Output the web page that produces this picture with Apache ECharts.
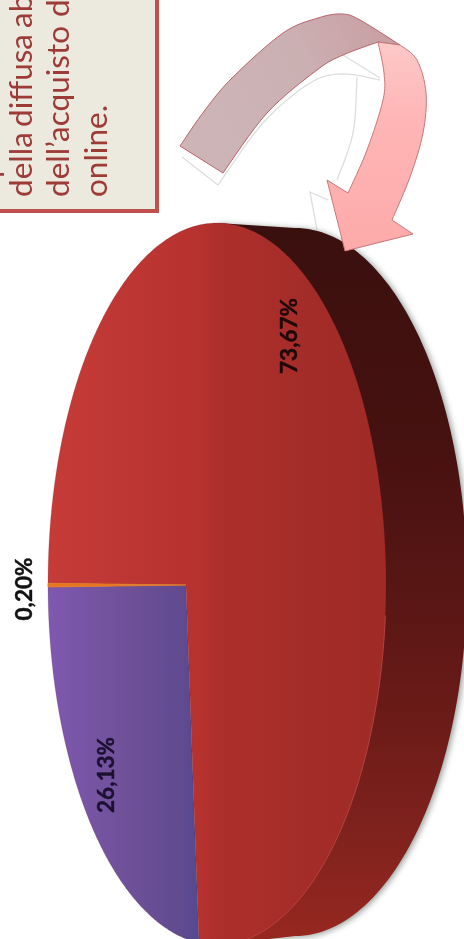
<!DOCTYPE html>
<html><head><meta charset="utf-8">
<style>html,body{margin:0;padding:0;background:#fff}#c{width:464px;height:939px}</style>
<script src="https://cdn.jsdelivr.net/npm/echarts@6/dist/echarts.min.js"></script>
</head><body><div id="c"></div>
<script>
// ---- data ----
const sliceNames = ['Arancio', 'Viola', 'Rosso'];
const sliceValues = [0.20, 26.13, 73.67];
const sliceLabels = ['0,20%', '26,13%', '73,67%'];
const noteWords = ['p', 'della', 'diffusa', 'ab', 'dell\u2019acquisto', 'di', 'online.'];

// ---- drawing helpers ----
const FACE = {cx: 217, cy: 584, rx: 169, ry: 361};
const BASE = {cx: 295, cy: 582, rx: 172, ry: 354};
const APEX = [186, 585];
const SQUASH = FACE.rx / FACE.ry;
const START_DEG = 180.33;
const total = sliceValues.reduce((a, b) => a + b, 0);

function rayToFace(deg) {
  const r = deg * Math.PI / 180;
  const dx = Math.cos(r) * SQUASH, dy = Math.sin(r);
  const ox = (APEX[0] - FACE.cx) / FACE.rx, oy = (APEX[1] - FACE.cy) / FACE.ry;
  const ax = dx / FACE.rx, ay = dy / FACE.ry;
  const a = ax * ax + ay * ay, b = 2 * (ox * ax + oy * ay), c = ox * ox + oy * oy - 1;
  const t = (-b + Math.sqrt(b * b - 4 * a * c)) / (2 * a);
  return [APEX[0] + t * dx, APEX[1] + t * dy];
}
function slicePoints(fromDeg, toDeg) {
  const n = Math.max(2, Math.ceil(Math.abs(toDeg - fromDeg) * 2));
  const pts = [APEX.slice()];
  for (let i = 0; i <= n; i++) pts.push(rayToFace(fromDeg + (toDeg - fromDeg) * i / n));
  return pts;
}
function ellipseArc(e, a0, a1, n) {
  const pts = [];
  for (let i = 0; i <= n; i++) {
    const t = (a0 + (a1 - a0) * i / n) * Math.PI / 180;
    pts.push([e.cx + e.rx * Math.cos(t), e.cy + e.ry * Math.sin(t)]);
  }
  return pts;
}
function spline(p, seg) {
  const out = [];
  for (let i = 0; i < p.length - 1; i++) {
    const p0 = p[Math.max(0, i - 1)], p1 = p[i], p2 = p[i + 1], p3 = p[Math.min(p.length - 1, i + 2)];
    for (let j = 0; j < (seg || 8); j++) {
      const t = j / (seg || 8), t2 = t * t, t3 = t2 * t;
      out.push([0, 1].map(k => 0.5 * (2 * p1[k] + (p2[k] - p0[k]) * t + (2 * p0[k] - 5 * p1[k] + 4 * p2[k] - p3[k]) * t2 + (3 * p1[k] - p0[k] - 3 * p2[k] + p3[k]) * t3)));
    }
  }
  out.push(p[p.length - 1]);
  return out;
}
const LG = (x0, y0, x1, y1, stops) => new echarts.graphic.LinearGradient(x0, y0, x1, y1, stops.map(c => ({offset: c[0], color: c[1]})), true);

const faceFills = [
  '#e8761e',
  LG(48, 0, 198, 0, [[0, '#7f58b0'], [0.5, '#6f5199'], [0.9, '#604a90'], [1, '#544a92']]),
  LG(48, 0, 386, 0, [[0, '#c63b38'], [0.45, '#b6322f'], [0.5, '#ae2f2c'], [0.8, '#a32c28'], [1, '#9f2a26']])
];
const labelSpots = [[25, 589], [107, 775], [289.5, 336]];
const labelColors = ['#111111', '#1c1030', '#1e0808'];

// cumulative share before each slice, from the data
const starts = [];
sliceValues.reduce((acc, v, i) => { starts[i] = acc; return acc + v; }, 0);

function renderSlice(params, api) {
  const i = params.dataIndex;
  const v = api.value(0);
  const a0 = START_DEG - starts[i] / total * 360;
  const a1 = a0 - v / total * 360;
  return {
    type: 'group',
    children: [{
      type: 'polygon', z2: i === 0 ? 2 : 1, shape: {points: slicePoints(a0, a1)},
      style: {fill: faceFills[i], stroke: i === 0 ? '#e07a2a' : 'rgba(110,30,40,0.3)', lineWidth: i === 0 ? 0.9 : 0.6}
    }, {
      type: 'text', x: labelSpots[i][0], y: labelSpots[i][1], rotation: Math.PI / 2, z2: 5,
      style: {text: sliceLabels[i], fill: labelColors[i], stroke: labelColors[i], lineWidth: 0.4, font: 'bold 22.5px Lato', align: 'center', verticalAlign: 'middle'}
    }]
  };
}

// ---- note box, arrow, pie body ----
const noteColor = '#9d3b37';
const noteFont = '31.5px Lato';
const noteSpots = [[-11, 178], [22, 197], [22, 127], [22, 28], [59, 197], [59, 17], [97, 197]];
const noteText = noteWords.map((w, i) => ({
  type: 'text', x: noteSpots[i][0], y: noteSpots[i][1], rotation: Math.PI / 2, z: 4,
  style: {text: w, fill: noteColor, font: noteFont, align: 'left', verticalAlign: 'middle'}
}));

const bandOuter = spline([[180, 146], [205, 110], [233, 77], [283, 33], [318, 18], [342, 14], [360, 20], [400, 45]]);
const bandInner = spline([[378, 42], [343, 55], [317, 70], [267, 113], [223, 173]]);
const pinkOuter = spline([[400, 45], [417, 60], [426, 93], [423, 133], [410, 177], [392, 220]]);
const pinkInner = spline([[348, 193], [367, 150], [383, 100], [384, 73], [378, 42]]);
const ghostA = spline([[218, 185], [263, 123], [310, 83], [343, 74], [380, 80]]);
const ghostB = spline([[357, 77], [353, 133], [337, 180]]);
const ghostStyle = {stroke: 'rgba(140,145,145,0.3)', lineWidth: 1.3, fill: null};

const wallPts = ellipseArc(BASE, -90, 90, 120).concat([[217, 945], [217, 223]]);

const option = {
  animation: false,
  backgroundColor: '#ffffff',
  graphic: {elements: [
    {type: 'polygon', z: 0, shape: {points: wallPts},
      style: {fill: LG(0, 230, 0, 936, [[0, '#3a100e'], [0.3, '#461110'], [0.5, '#571614'], [0.7, '#6c1b18'], [0.85, '#7f221d'], [1, '#962720']]),
        shadowBlur: 6, shadowOffsetX: 2, shadowOffsetY: 1, shadowColor: 'rgba(60,75,70,0.55)'}},
    {type: 'polyline', z: 9, shape: {points: ellipseArc(FACE, 88, 5, 60)},
      style: {stroke: '#c24a44', lineWidth: 1, fill: null, opacity: 0.8}},
    {type: 'rect', z: 3, shape: {x: -10, y: -10, width: 167, height: 221},
      style: {fill: '#ece9df', stroke: '#c0504d', lineWidth: 4}},
    {type: 'polyline', z: 6, shape: {points: [[182, 157], [218, 185]]}, style: ghostStyle},
    {type: 'polyline', z: 6, shape: {points: ghostA}, style: ghostStyle},
    {type: 'polyline', z: 6, shape: {points: [[343, 55], [380, 78]]}, style: ghostStyle},
    {type: 'polyline', z: 6, shape: {points: ghostB}, style: ghostStyle},
    {type: 'polyline', z: 6, shape: {points: [[328, 200], [310, 192], [317, 230]]}, style: ghostStyle},
    {type: 'polygon', z: 7, shape: {points: bandOuter.concat(bandInner)},
      style: {fill: LG(180, 146, 400, 45, [[0, '#cdb5b6'], [0.6, '#cbb0b2'], [1, '#c99ea2']]), stroke: '#b8636a', lineWidth: 1}},
    {type: 'polygon', z: 8, shape: {points: pinkOuter.concat([[413, 234], [345, 251], [327, 180]], pinkInner)},
      style: {fill: LG(0, 45, 0, 250, [[0, '#fcc8c8'], [0.35, '#ffb6b6'], [1, '#fdaaaa']]), stroke: '#c8777a', lineWidth: 1}}
  ].concat(noteText)},
  series: [{
    type: 'custom',
    coordinateSystem: 'none',
    z: 2,
    silent: true,
    renderItem: renderSlice,
    data: sliceValues.map((v, i) => ({name: sliceNames[i], value: [v]}))
  }]
};
const chart = echarts.init(document.getElementById('c'), null, {renderer: 'canvas'});
chart.setOption(option);
</script></body></html>
